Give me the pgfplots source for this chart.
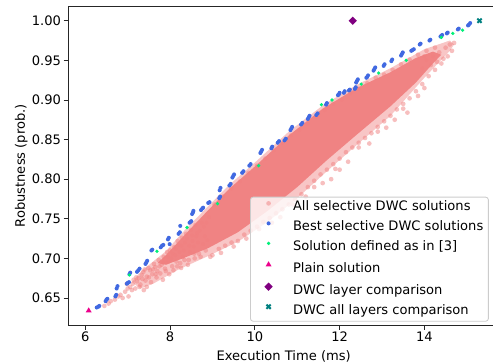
\documentclass[border=0pt]{standalone}
\usepackage{fontspec}
\setmainfont{DejaVu Sans}
\usepackage{pgfplots}
\pgfplotsset{compat=1.18}
\definecolor{lcoral}{RGB}{240,128,128}
\definecolor{rblue}{RGB}{65,105,225}
\definecolor{sgreen}{RGB}{0,240,120}
\definecolor{mpurple}{RGB}{128,0,128}
\definecolor{mteal}{RGB}{0,128,128}
\definecolor{lgray}{RGB}{204,204,204}
\begin{document}
\fontsize{12.2}{14.6}\selectfont
\begin{tikzpicture}
\useasboundingbox (-63.8pt,-35.5pt) rectangle (396.4pt,303.4pt);
\begin{axis}[
  scale only axis, width=402.0pt, height=297.3pt,
  xmin=5.60, xmax=15.76, ymin=0.6159, ymax=1.0179,
  axis line style={black!85, line width=0.8pt},
  tick style={black!85, line width=0.8pt},
  tick align=outside, major tick length=4.5pt,
  tick pos=left,
  xtick={6,8,10,12,14},
  ytick={0.65,0.7,0.75,0.8,0.85,0.9,0.95,1.0},
  /pgf/number format/assume math mode=true,
  yticklabel style={/pgf/number format/fixed, /pgf/number format/fixed zerofill, /pgf/number format/precision=2, anchor=east, inner sep=0pt, xshift=-2.2pt},
  xticklabel style={anchor=base, inner sep=0pt, yshift=-11pt},
  xlabel={Execution Time (ms)}, ylabel={Robustness (prob.)},
  xlabel style={at={(axis description cs:0.5,-0.110)}, anchor=base},
  ylabel style={at={(axis description cs:-0.1007,0.5)}, anchor=base},
  legend style={at={(0.4219,0.4028)}, anchor=north west, draw=lgray, line width=0.8pt, rounded corners=2.5pt, fill=white, fill opacity=0.8, draw opacity=1, text opacity=1, inner xsep=4.7pt, inner ysep=3.6pt, row sep=6.67pt, nodes={inner sep=0pt, text height=9pt, text depth=3pt}, /tikz/every odd column/.style={column sep=10.6pt}},
  legend cell align=left,
  legend image code/.code={\path (0pt,4pt) (23.6pt,4pt); \draw[mark repeat=2,mark phase=2] plot coordinates {(0pt,4pt)(11.8pt,4pt)(23.6pt,4pt)};},
]
% outer (sparser) envelope of all solutions
\addplot[forget plot, draw=none, fill=lcoral, fill opacity=0.45] coordinates {
(7.1,0.670)(7.3,0.683)(7.9,0.709)(8.3,0.733)(8.9,0.766)(9.4,0.793)(10.0,0.821)(10.8,0.860)(11.6,0.893)(12.4,0.919)(13.2,0.940)(14.0,0.964)(14.6,0.975)
(14.7,0.970)(14.6,0.962)(14.0,0.928)(13.2,0.880)(12.4,0.843)(11.7,0.810)(11.0,0.776)(10.3,0.746)(9.6,0.721)(8.9,0.703)(8.2,0.686)(7.6,0.668)(7.3,0.662)
} -- cycle;
% dense core of all solutions
\addplot[forget plot, draw=none, fill=lcoral, fill opacity=0.95] coordinates {
(7.7,0.694)(7.9,0.704)(8.3,0.727)(8.9,0.761)(9.4,0.788)(10.0,0.816)(10.8,0.855)(11.6,0.889)(12.4,0.915)(13.2,0.935)(13.8,0.953)(14.2,0.961)
(14.4,0.957)(14.2,0.946)(13.8,0.922)(13.2,0.892)(12.4,0.856)(11.7,0.824)(11.0,0.790)(10.3,0.760)(9.6,0.733)(8.9,0.713)(8.3,0.700)(7.9,0.692)
} -- cycle;
% All selective DWC solutions
\addplot[only marks, mark=*, mark size=2.2pt, mark options={draw opacity=0, fill=lcoral, fill opacity=0.5}] coordinates {
(6.45,0.640)(6.55,0.643)(6.60,0.646)(6.83,0.654)(6.88,0.650)(6.94,0.658)(6.98,0.668)(7.02,0.652)(7.06,0.664)(7.10,0.660)
(7.14,0.673)(7.18,0.662)(7.22,0.671)(7.26,0.675)(7.30,0.667)(7.33,0.679)(7.37,0.683)(7.38,0.660)(7.42,0.672)(7.45,0.677)
(7.45,0.664)(7.49,0.688)(7.53,0.685)(7.55,0.670)(7.58,0.680)(7.62,0.693)(7.65,0.689)(7.68,0.676)(7.70,0.684)(7.73,0.698)
(7.77,0.681)(7.80,0.692)(7.83,0.673)(7.85,0.702)(7.88,0.687)(7.91,0.695)(7.93,0.708)(7.96,0.696)(7.98,0.680)(8.00,0.710)
(8.03,0.700)(8.05,0.690)(8.08,0.685)(8.10,0.714)(8.12,0.704)(8.15,0.696)(8.18,0.722)(8.20,0.717)(8.22,0.708)(8.24,0.694)
(8.26,0.688)(8.28,0.726)(8.30,0.702)(8.32,0.710)(8.35,0.720)(8.38,0.731)(8.40,0.725)(8.42,0.692)(8.44,0.698)(8.47,0.708)
(8.50,0.736)(8.53,0.722)(8.56,0.715)(8.58,0.700)(8.60,0.742)(8.62,0.728)(8.64,0.732)(8.68,0.706)(8.72,0.702)(8.75,0.745)
(8.78,0.718)(8.80,0.740)(8.84,0.710)(8.88,0.723)(8.92,0.752)(8.95,0.702)
(7.50,0.676)(7.60,0.686)(7.66,0.680)(7.75,0.690)(7.84,0.695)(7.90,0.684)(7.95,0.702)(8.06,0.706)(8.14,0.712)(8.17,0.690)
(8.27,0.716)(8.34,0.698)(8.45,0.716)(8.52,0.729)(8.57,0.706)(8.66,0.720)(8.70,0.735)(8.82,0.728)(8.86,0.745)(6.70,0.648)
(6.78,0.652)(7.00,0.662)(7.12,0.668)(7.20,0.676)(7.28,0.664)(7.35,0.674)(7.40,0.686)
(9.05,0.768)(9.25,0.778)(9.45,0.788)(9.65,0.797)(9.85,0.808)(10.05,0.817)(10.25,0.826)(10.45,0.836)(10.65,0.846)(10.85,0.855)
(11.05,0.862)(11.25,0.870)(11.45,0.879)(11.65,0.887)(11.85,0.895)(12.05,0.900)(12.25,0.908)(12.45,0.914)(12.65,0.921)(12.85,0.928)
(13.05,0.932)(13.25,0.938)(13.45,0.945)(13.65,0.951)(13.85,0.957)(14.05,0.962)(14.25,0.966)
(9.00,0.704)(9.15,0.712)(9.30,0.716)(9.45,0.720)(9.60,0.722)(9.75,0.730)(9.90,0.735)(10.05,0.740)(10.20,0.746)(10.35,0.751)
(10.50,0.757)(10.65,0.762)(10.80,0.768)(10.95,0.774)(11.10,0.781)(11.25,0.790)(11.40,0.798)(11.55,0.806)(11.70,0.812)(11.85,0.819)
(12.00,0.826)(12.15,0.834)(12.30,0.840)(12.45,0.846)(12.60,0.852)(12.75,0.858)(12.90,0.866)(13.05,0.873)(13.20,0.880)(13.35,0.888)
(13.50,0.895)(13.65,0.902)(13.80,0.911)(13.95,0.920)(14.10,0.930)(14.25,0.938)(14.40,0.946)(14.55,0.955)
(9.50,0.715)(10.60,0.752)(11.20,0.778)(11.90,0.813)(12.45,0.840)(12.90,0.860)(13.50,0.889)(13.85,0.905)(13.30,0.875)(10.10,0.737)(9.20,0.707)
(10.40,0.745)(10.90,0.768)(11.40,0.790)(11.80,0.800)(12.20,0.822)(12.70,0.845)(13.10,0.865)(13.60,0.884)(14.00,0.915)(9.80,0.725)(11.60,0.795)(12.00,0.812)
(14.20,0.955)(14.35,0.960)(14.45,0.952)(14.50,0.966)(14.60,0.970)(14.65,0.962)(14.70,0.972)(14.30,0.948)(14.15,0.944)(14.05,0.950)(13.95,0.940)(14.00,0.955)
};
\addlegendentry{All selective DWC solutions}
% Best selective DWC solutions
\addplot[only marks, mark=*, mark size=1.9pt, mark options={draw opacity=0, fill=rblue, fill opacity=1}] coordinates {
(6.27,0.638)(6.31,0.639)(6.33,0.640)(6.48,0.646)(6.50,0.648)(6.52,0.649)(6.71,0.652)(6.73,0.654)(6.74,0.662)(6.76,0.665)
(6.98,0.668)(7.00,0.669)(7.03,0.670)(7.04,0.680)(7.06,0.682)(7.22,0.683)(7.25,0.685)(7.28,0.687)(7.42,0.693)(7.44,0.695)
(7.46,0.697)(7.56,0.710)(7.58,0.711)(7.78,0.714)(7.81,0.716)(7.84,0.717)(7.95,0.724)(7.97,0.726)(7.99,0.718)(8.20,0.731)
(8.23,0.733)(8.24,0.741)(8.46,0.745)(8.48,0.746)(8.50,0.747)(8.52,0.756)(8.54,0.758)(8.55,0.760)(8.73,0.761)(8.76,0.763)
(8.78,0.764)(8.90,0.770)(8.93,0.771)(9.16,0.776)(9.18,0.778)(9.17,0.786)(9.19,0.789)(9.40,0.792)(9.43,0.794)(9.47,0.802)
(9.49,0.804)(9.51,0.806)(9.70,0.808)(9.73,0.810)(9.87,0.817)(9.90,0.819)(10.13,0.833)(10.15,0.835)(10.17,0.837)(10.39,0.839)
(10.41,0.841)(10.54,0.846)(10.57,0.848)(10.70,0.849)(10.73,0.851)(10.84,0.862)(10.86,0.864)(10.88,0.866)(11.09,0.869)(11.12,0.871)
(11.25,0.876)(11.27,0.878)(11.29,0.880)(11.45,0.881)(11.48,0.883)(11.68,0.894)(11.70,0.896)(11.96,0.906)(11.98,0.907)(12.00,0.909)
(12.10,0.909)(12.12,0.911)(12.22,0.912)(12.24,0.913)(12.36,0.914)(12.38,0.916)(12.39,0.922)(12.41,0.924)(12.43,0.926)(12.63,0.928)
(12.65,0.929)(12.67,0.931)(12.80,0.937)(12.82,0.939)(12.84,0.941)(13.04,0.943)(13.06,0.945)(13.22,0.949)(13.24,0.951)(13.45,0.956)
(13.47,0.958)(13.49,0.960)(13.69,0.962)(13.72,0.963)(13.75,0.964)(13.89,0.970)(13.91,0.971)(14.12,0.975)(14.14,0.976)(14.38,0.980)
(14.40,0.981)(14.42,0.982)(14.53,0.984)(14.55,0.985)(14.79,0.989)(14.81,0.990)(15.03,0.994)(15.05,0.995)(15.08,0.997)
};
\addlegendentry{Best selective DWC solutions}
% Solution defined as in [3]
\addplot[only marks, mark=*, mark size=1.7pt, mark options={draw opacity=0, fill=sgreen, fill opacity=1}] coordinates {
(7.04,0.679)(7.69,0.709)(8.40,0.739)(9.12,0.769)(10.09,0.817)(11.57,0.894)(11.82,0.900)(12.51,0.920)(12.92,0.934)(13.57,0.950)(14.40,0.979)(14.67,0.984)(14.90,0.988)
};
\addlegendentry{Solution defined as in [3]}
% Plain solution
\addplot[only marks, mark=triangle*, mark size=3.2pt, mark options={draw opacity=0, fill=magenta, fill opacity=1}] coordinates {(6.08,0.634)};
\addlegendentry{Plain solution}
% DWC layer comparison
\addplot[only marks, mark=square*, mark size=2.75pt, mark options={rotate=45, draw opacity=0, fill=mpurple, fill opacity=1}] coordinates {(12.31,1.000)};
\addlegendentry{DWC layer comparison}
% DWC all layers comparison
\addplot[only marks, mark=x, mark size=2.8pt, mark options={draw=mteal, line width=1.9pt, draw opacity=1}] coordinates {(15.30,1.000)};
\addlegendentry{DWC all layers comparison}
\end{axis}
\end{tikzpicture}
\end{document}
